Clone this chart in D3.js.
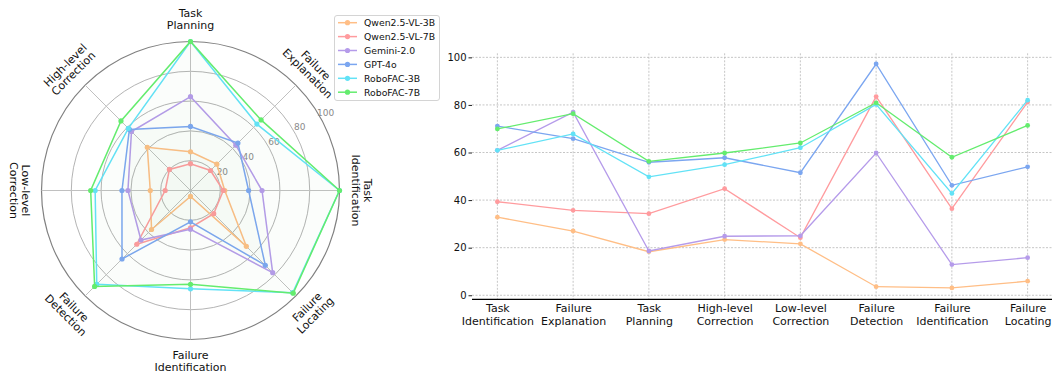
<!DOCTYPE html>
<html>
<head>
<meta charset="utf-8">
<script src="https://cdn.jsdelivr.net/npm/d3@7"></script>
<style>
  body { margin: 0; background: #fff; }
  text { font-family: "DejaVu Sans", sans-serif; }
</style>
</head>
<body>
<div id="chart"></div>
<script>
// categories (two-line labels)
var categories = [
  ["Task", "Identification"],
  ["Failure", "Explanation"],
  ["Task", "Planning"],
  ["High-level", "Correction"],
  ["Low-level", "Correction"],
  ["Failure", "Detection"],
  ["Failure", "Identification"],
  ["Failure", "Locating"]
];
var models = ["Qwen2.5-VL-3B", "Qwen2.5-VL-7B", "Gemini-2.0", "GPT-4o", "RoboFAC-3B", "RoboFAC-7B"];
var colors = ["#FFBE86", "#FF9B9E", "#B59BEA", "#7BA6F0", "#62E2F6", "#64EC6E"];

// radar values (normalised, 0-100)
var qwen3bRadar = [23, 25, 26, 41, 27, 37, 4, 53];
var qwen7bRadar = [22, 19, 18, 20, 17, 51, 25, 22];
var geminiRadar = [48, 43, 63, 56, 42, 47, 26, 78];
var gpt4oRadar = [39, 45, 43, 58, 46, 65, 21, 71];
var robo3bRadar = [100, 63, 100, 59, 64, 89, 66, 97];
var robo7bRadar = [100, 67, 100, 66, 67, 91, 63, 97.5];
var radarTicks = [20, 40, 60, 80, 100];

// line chart scores
var qwen3bScores = [32.8, 27, 18.3, 23.4, 21.6, 3.6, 3.1, 5.9];
var qwen7bScores = [39.3, 35.7, 34.3, 44.8, 24.2, 83.5, 36.4, 81.2];
var geminiScores = [60.9, 77, 18.6, 24.8, 25, 59.8, 12.9, 15.8];
var gpt4oScores = [71.1, 65.8, 55.9, 57.8, 51.5, 97.2, 46.2, 54];
var robo3bScores = [60.9, 67.8, 49.8, 54.9, 62, 80.2, 42.8, 82];
var robo7bScores = [69.9, 76.3, 56.3, 59.8, 64, 80.9, 58, 71.4];
var yTicks = [0, 20, 40, 60, 80, 100];

var radarSeries = [qwen3bRadar, qwen7bRadar, geminiRadar, gpt4oRadar, robo3bRadar, robo7bRadar];
var lineSeries = [qwen3bScores, qwen7bScores, geminiScores, gpt4oScores, robo3bScores, robo7bScores];

var svg = d3.select("#chart").append("svg")
    .attr("width", 1052)
    .attr("height", 373);

// ---------- radar ----------
var cx = 190.5, cy = 190.5, R = 149;
var r = d3.scaleLinear().domain([0, 100]).range([0, R]);
var n = categories.length;
function theta(i) { return i * 2 * Math.PI / n; }   // ccw from east

var radar = svg.append("g").attr("transform", "translate(" + cx + "," + cy + ")");

// rings
radar.selectAll(".ring")
    .data(radarTicks)
  .enter().append("circle")
    .attr("r", function(d) { return r(d); })
    .attr("fill", "none")
    .attr("stroke", function(d) { return d === 100 ? "#808080" : "#b4b4b4"; })
    .attr("stroke-width", function(d) { return d === 100 ? 1.2 : 1; });

// spokes
radar.selectAll(".spoke")
    .data(categories)
  .enter().append("line")
    .attr("x1", 0).attr("y1", 0)
    .attr("x2", function(d, i) { return r(100) * Math.cos(theta(i)); })
    .attr("y2", function(d, i) { return -r(100) * Math.sin(theta(i)); })
    .attr("stroke", "#c0c0c0")
    .attr("stroke-width", 1);

// ring labels
var labelAngle = 30 * Math.PI / 180;
radar.selectAll(".rlabel")
    .data(radarTicks)
  .enter().append("text")
    .attr("x", function(d) { return (r(d) + 7) * Math.cos(labelAngle); })
    .attr("y", function(d) { return -(r(d) + 7) * Math.sin(labelAngle); })
    .attr("text-anchor", "middle")
    .attr("dominant-baseline", "central")
    .attr("font-size", "9px")
    .attr("fill", "#8a8a8a")
    .text(function(d) { return d; });

var radial = d3.lineRadial()
    .angle(function(d, i) { return Math.PI / 2 - theta(i); })
    .radius(function(d) { return r(d); })
    .curve(d3.curveLinearClosed);

radarSeries.forEach(function(vals, k) {
  radar.append("path")
      .datum(vals)
      .attr("d", radial)
      .attr("fill", "#8fa09a")
      .attr("fill-opacity", 0.014)
      .attr("stroke", colors[k])
      .attr("stroke-width", 1.5);
  radar.selectAll(".pt" + k)
      .data(vals)
    .enter().append("circle")
      .attr("cx", function(d, i) { return r(d) * Math.cos(theta(i)); })
      .attr("cy", function(d, i) { return -r(d) * Math.sin(theta(i)); })
      .attr("r", 2.6)
      .attr("fill", colors[k]);
});

// axis labels
categories.forEach(function(lab, i) {
  var a = theta(i);
  var rot = 90 - a * 180 / Math.PI;
  if (rot <= -90) rot += 180;
  if (rot > 90) rot -= 180;
  var lx = 171 * Math.cos(a), ly = -171 * Math.sin(a);
  var t = radar.append("text")
      .attr("transform", "translate(" + lx + "," + ly + ") rotate(" + rot + ")")
      .attr("text-anchor", "middle")
      .attr("font-size", "11px")
      .attr("fill", "#111");
  t.append("tspan").attr("x", 0).attr("y", -5.8).attr("dominant-baseline", "central").text(lab[0]);
  t.append("tspan").attr("x", 0).attr("y", 5.8).attr("dominant-baseline", "central").text(lab[1]);
});

// legend
var legend = svg.append("g");
legend.append("rect")
    .attr("x", 334.5).attr("y", 15.5)
    .attr("width", 105).attr("height", 85)
    .attr("rx", 2.5)
    .attr("fill", "#fff")
    .attr("stroke", "#d4d4d4");
models.forEach(function(m, k) {
  var ly = 22.7 + k * 13.9;
  legend.append("line")
      .attr("x1", 338).attr("x2", 357)
      .attr("y1", ly).attr("y2", ly)
      .attr("stroke", colors[k]).attr("stroke-width", 1.5);
  legend.append("circle")
      .attr("cx", 347.5).attr("cy", ly).attr("r", 2.6)
      .attr("fill", colors[k]);
  legend.append("text")
      .attr("x", 364).attr("y", ly)
      .attr("dominant-baseline", "central")
      .attr("font-size", "9.3px")
      .attr("fill", "#111")
      .text(m);
});

// ---------- line chart ----------
var x = d3.scaleLinear().domain([-0.335, 7.335]).range([472, 1053]);
var y = d3.scaleLinear().domain([-1.7, 101.7]).range([299.3, 53.3]);

// grid
svg.append("g")
    .selectAll("line")
    .data(yTicks)
  .enter().append("line")
    .attr("x1", 472).attr("x2", 1052)
    .attr("y1", function(d) { return y(d); })
    .attr("y2", function(d) { return y(d); })
    .attr("stroke", "#b8b8b8")
    .attr("stroke-width", 0.8)
    .attr("stroke-dasharray", "2,1.5");
svg.append("g")
    .selectAll("line")
    .data(d3.range(n))
  .enter().append("line")
    .attr("x1", function(d) { return x(d); })
    .attr("x2", function(d) { return x(d); })
    .attr("y1", 53.3).attr("y2", 299.3)
    .attr("stroke", "#b8b8b8")
    .attr("stroke-width", 0.8)
    .attr("stroke-dasharray", "2,1.5");

// y axis (no spine)
var yAxis = svg.append("g")
    .attr("transform", "translate(472,0)")
    .call(d3.axisLeft(y).tickValues(yTicks).tickSize(3.5).tickPadding(2));
yAxis.select(".domain").remove();
yAxis.selectAll("text").attr("font-size", "10px").attr("fill", "#111")
    .attr("font-family", "DejaVu Sans, sans-serif");
yAxis.selectAll("line").attr("stroke", "#222");

// x axis
var xAxis = svg.append("g")
    .attr("transform", "translate(0,299.3)")
    .call(d3.axisBottom(x).tickValues(d3.range(n)).tickSize(0).tickFormat(""));
xAxis.select(".domain").attr("d", "M472,0H1052").attr("stroke", "#000").attr("stroke-width", 1.2);
xAxis.selectAll(".tick text").each(function(d) {
  var t = d3.select(this).text("")
      .attr("font-size", "11px").attr("fill", "#111")
      .attr("font-family", "DejaVu Sans, sans-serif")
      .attr("y", null).attr("dy", null);
  t.append("tspan").attr("x", 0).attr("y", 9).attr("dominant-baseline", "central").text(categories[d][0]);
  t.append("tspan").attr("x", 0).attr("y", 22).attr("dominant-baseline", "central").text(categories[d][1]);
});

var line = d3.line()
    .x(function(d, i) { return x(i); })
    .y(function(d) { return y(d); });

lineSeries.forEach(function(vals, k) {
  svg.append("path")
      .datum(vals)
      .attr("d", line)
      .attr("fill", "none")
      .attr("stroke", colors[k])
      .attr("stroke-width", 1.3);
  svg.append("g").selectAll("circle")
      .data(vals)
    .enter().append("circle")
      .attr("cx", function(d, i) { return x(i); })
      .attr("cy", function(d) { return y(d); })
      .attr("r", 2.4)
      .attr("fill", colors[k]);
});
</script>
</body>
</html>
